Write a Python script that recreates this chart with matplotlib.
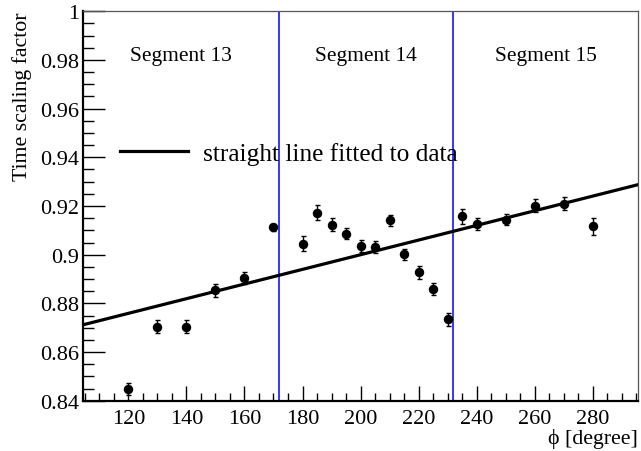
import numpy as np
import matplotlib
matplotlib.use("Agg")
import matplotlib.pyplot as plt
from matplotlib.ticker import MultipleLocator

plt.rcParams['font.family'] = ['Liberation Serif', 'DejaVu Serif']
plt.rcParams['mathtext.fontset'] = 'stix'

# ---- data ----
phi = [120, 130, 140, 150, 160, 170, 180, 185, 190, 195, 200, 205, 210,
       215, 220, 225, 230, 235, 240, 250, 260, 270, 280]
scale = [0.8447, 0.8705, 0.8705, 0.8854, 0.8905, 0.9112, 0.9046, 0.9172,
         0.9124, 0.9087, 0.9035, 0.9031, 0.9141, 0.9001, 0.8928, 0.8860,
         0.8735, 0.9158, 0.9127, 0.9144, 0.9202, 0.9210, 0.9116]
scale_err = [0.0025, 0.0028, 0.0028, 0.0027, 0.0024, 0.0015, 0.0029, 0.0031,
             0.0025, 0.0024, 0.0024, 0.0024, 0.0022, 0.0022, 0.0027, 0.0025,
             0.0027, 0.0031, 0.0024, 0.0023, 0.0027, 0.0028, 0.0035]

# straight line fit: scale = p0 + p1 * phi
fit_p0 = 0.8398
fit_p1 = 0.000301

# segment boundaries and labels
seg_edges = [172, 232]
seg_labels = ["Segment 13", "Segment 14", "Segment 15"]

x_min, x_max = 104.5, 295.5
y_min, y_max = 0.84, 1.0

fig = plt.figure(figsize=(6.41, 4.52), dpi=100)
ax = fig.add_axes([0.130, 0.111, 0.865, 0.862])

# fitted line over the full range
x_fit = np.array([x_min, x_max])
ax.plot(x_fit, fit_p0 + fit_p1 * x_fit, color='black', lw=2.3,
        label='straight line fitted to data', zorder=3)

# data points
ax.errorbar(phi, scale, yerr=scale_err, fmt='o', color='black', ms=5.8,
            elinewidth=1.0, capsize=1.8, capthick=1.0, zorder=4)

# segment borders
for xe in seg_edges:
    ax.axvline(xe, color='#0000ff', lw=1.1, zorder=2)

# segment labels, centred in each segment
bounds = [x_min] + seg_edges + [x_max]
for i, lab in enumerate(seg_labels):
    xc = 0.5 * (bounds[i] + bounds[i + 1])
    ax.text(xc, 0.982, lab, ha='center', va='center', fontsize=15.5)

ax.legend(loc='center left', bbox_to_anchor=(0.066, 0.636), frameon=False,
          fontsize=18.3, handlelength=2.67, handletextpad=0.6,
          borderpad=0, borderaxespad=0)

ax.set_xlim(x_min, x_max)
ax.set_ylim(y_min, y_max)

ax.xaxis.set_major_locator(MultipleLocator(20))
ax.xaxis.set_minor_locator(MultipleLocator(5))
ax.yaxis.set_minor_locator(MultipleLocator(0.005))
ax.set_yticks(np.arange(0.84, 1.001, 0.02))
ax.set_yticklabels(['0.84', '0.86', '0.88', '0.9', '0.92', '0.94',
                    '0.96', '0.98', '1'])

ax.tick_params(which='both', direction='in', top=False, right=False,
               labelsize=16, width=1.0, colors='black')
ax.tick_params(axis='y', which='major', length=16, pad=3)
ax.tick_params(axis='y', which='minor', length=8)
ax.tick_params(axis='x', which='major', length=11, pad=6)
ax.tick_params(axis='x', which='minor', length=5.5)

for side in ['left', 'bottom']:
    ax.spines[side].set_linewidth(1.6)
    ax.spines[side].set_color('black')
for side in ['top', 'right']:
    ax.spines[side].set_linewidth(0.9)
    ax.spines[side].set_color('#555555')

ax.set_ylabel('Time scaling factor', fontsize=15.7, loc='top')
ax.yaxis.set_label_coords(-0.093, 1.0)
ax.set_xlabel('ϕ [degree]', fontsize=15.7, loc='right', labelpad=0)

fig.savefig('out.png', dpi=100)
